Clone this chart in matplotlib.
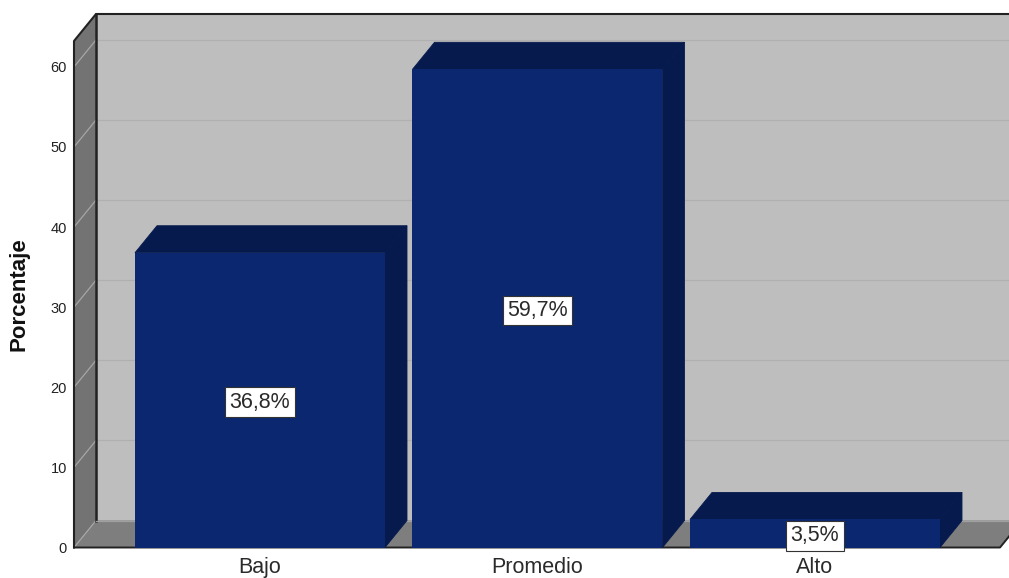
import matplotlib
matplotlib.use("Agg")
import matplotlib.pyplot as plt
from matplotlib.patches import Polygon

plt.rcParams['font.family'] = ['Liberation Sans', 'DejaVu Sans']

categorias = ["Bajo", "Promedio", "Alto"]
porcentajes = [36.8, 59.7, 3.5]
etiquetas = ["36,8%", "59,7%", "3,5%"]
marcas_y = [0, 10, 20, 30, 40, 50, 60]

W, H = 1009, 578
fig = plt.figure(figsize=(W / 100, H / 100), dpi=100, facecolor="white")
# ejes puestos a mano, en pixeles de la imagen
izq, der, base, techo = 74, 1009, 547.5, 41
ax = fig.add_axes([izq / W, 1 - base / H, (der - izq) / W, (base - techo) / H])

px_x = 277.5          # pixeles por categoria
px_y = 8.01           # pixeles por unidad de porcentaje
ax.set_xlim((izq - 260) / px_x, (der - 260) / px_x)
ax.set_ylim(0, (base - techo) / px_y)
ancho = 250 / px_x
dx = 22 / px_x        # profundidad 3d
dy = 27 / px_y

x0 = ax.get_xlim()[0]
x1 = (1000 - 260) / px_x
y1 = ax.get_ylim()[1]

MURO = "#BEBEBE"
LATERAL = "#737373"
PISO = "#7E7E7E"
AZUL = "#0A276F"
AZUL_TOP = "#061A4D"
AZUL_LADO = "#061A4D"
NEGRO = "#222222"


def poli(puntos, color, borde="none", lw=0, z=1):
    ax.add_patch(Polygon(puntos, closed=True, facecolor=color, edgecolor=borde,
                         linewidth=lw, clip_on=False, zorder=z))


# paredes y piso
poli([(x0 + dx, dy), (x1 + dx, dy), (x1 + dx, y1 + dy), (x0 + dx, y1 + dy)], MURO)
poli([(x0, 0), (x0 + dx, dy), (x0 + dx, y1 + dy), (x0, y1)], LATERAL)
poli([(x0, 0), (x1, 0), (x1 + dx, dy), (x0 + dx, dy)], PISO)

# rejilla
for m in marcas_y:
    ax.plot([x0, x0 + dx], [m, m + dy], color="#A6A6A6", lw=0.9, zorder=2, clip_on=False)
    if m > 0:
        ax.plot([x0 + dx, x1 + dx], [m + dy, m + dy], color="#B0B0B0", lw=0.9, zorder=2, clip_on=False)

# borde oscuro
ax.plot([x0, x0, x0 + dx, x1 + dx], [0, y1, y1 + dy, y1 + dy], color=NEGRO, lw=1.5, zorder=3, clip_on=False)
ax.plot([x0 + dx, x0 + dx], [dy, y1 + dy], color=NEGRO, lw=1.8, zorder=3, clip_on=False)
ax.plot([x0 + dx, x1 + dx], [dy, dy], color="#A0A0A0", lw=0.9, zorder=3, clip_on=False)
ax.plot([x0, x1, x1 + dx], [0, 0, dy], color=NEGRO, lw=1.4, zorder=3, clip_on=False)

# barras
pos = list(range(len(categorias)))
ax.bar(pos, porcentajes, width=ancho, color=AZUL, zorder=5)
for i, v in zip(pos, porcentajes):
    a = i - ancho / 2
    b = i + ancho / 2
    poli([(a, v), (b, v), (b + dx, v + dy), (a + dx, v + dy)], AZUL_TOP, borde=AZUL_TOP, lw=0.6, z=4)
    poli([(b, 0), (b + dx, dy), (b + dx, v + dy), (b, v)], AZUL_LADO, borde=AZUL_LADO, lw=0.6, z=4)
    ax.text(i, (v / 2 if v > 5 else 1.7) - 0.25, etiquetas[i], ha="center", va="center", fontsize=15.5,
            color="#2A2A2A", zorder=6,
            bbox=dict(boxstyle="square,pad=0.2", facecolor="white", edgecolor="#333333", linewidth=0.8))

ax.set_xticks(pos)
ax.set_xticklabels(categorias, fontsize=15.5, color="#2A2A2A")
ax.set_yticks(marcas_y)
ax.set_yticklabels([str(m) for m in marcas_y], fontsize=10.5, color="#222222")
ax.tick_params(axis="both", length=0)
ax.tick_params(axis="x", pad=6.5)
ax.tick_params(axis="y", pad=5)
for s in ax.spines.values():
    s.set_visible(False)
ax.patch.set_visible(False)

fig.text(19 / W, 1 - 294 / H, "Porcentaje", rotation=90, ha="center", va="center",
         fontsize=16, fontweight="bold", color="#111111")

fig.savefig("out.png", dpi=100)
